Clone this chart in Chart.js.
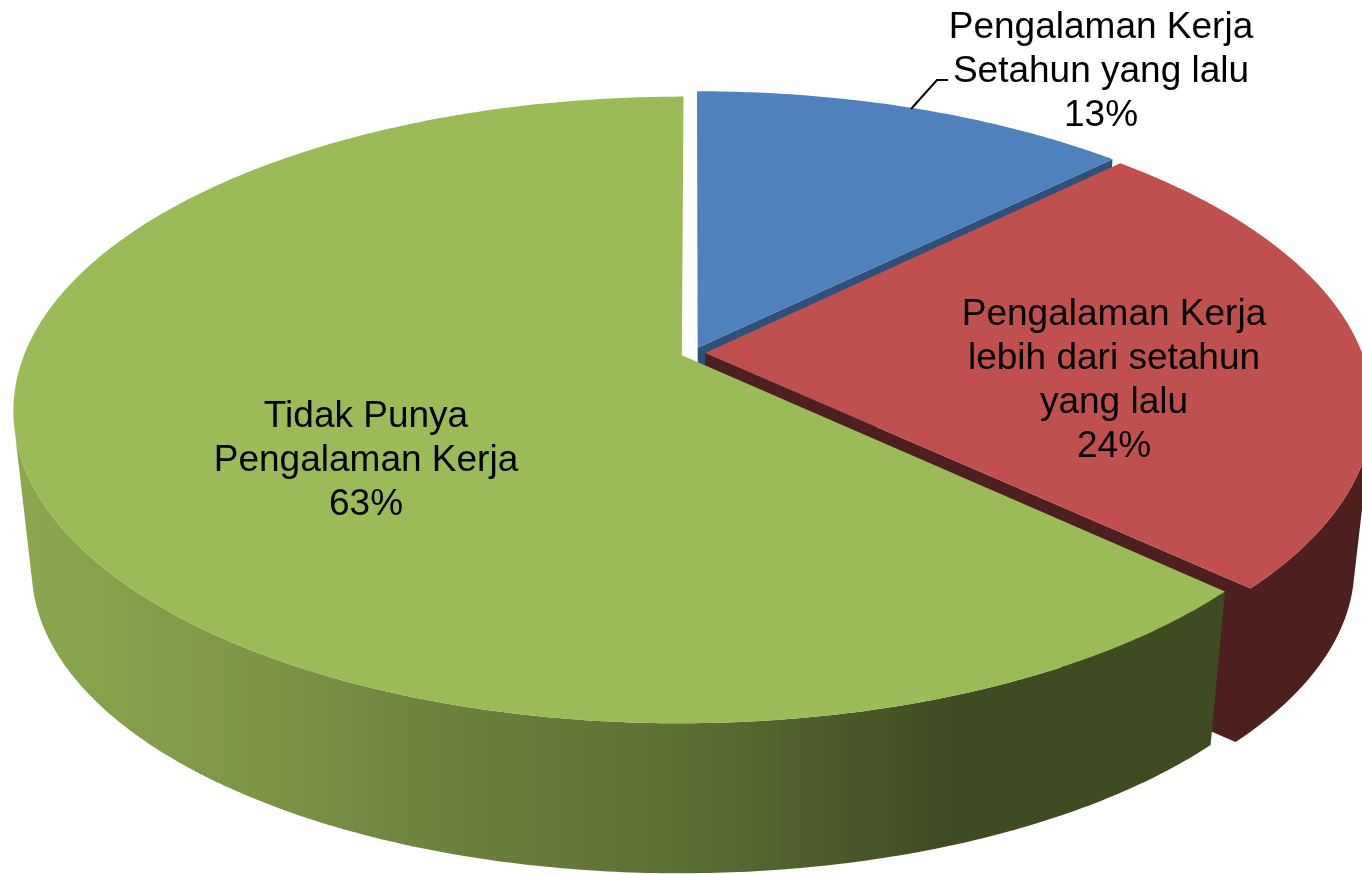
<!DOCTYPE html>
<html>
<head>
<meta charset="utf-8">
<title>Pengalaman Kerja</title>
<script src="https://cdn.jsdelivr.net/npm/chart.js@4"></script>
<style>
    body { margin: 0; background: #fff; overflow: hidden; }
    canvas { display: block; }
</style>
</head>
<body>
<canvas id="myChart" width="1362" height="874"></canvas>
<script>
const CATEGORIES = [
    'Pengalaman Kerja Setahun yang lalu',
    'Pengalaman Kerja lebih dari setahun yang lalu',
    'Tidak Punya Pengalaman Kerja'
];
const VALUES = [12.6, 24.4, 63];
const LABEL_LINES = [
    ['Pengalaman Kerja', 'Setahun yang lalu'],
    ['Pengalaman Kerja', 'lebih dari setahun', 'yang lalu'],
    ['Tidak Punya', 'Pengalaman Kerja']
];
const TOP_COLORS = ['#4f81bd', '#c0504d', '#9bbb59'];
const WALL_COLORS = ['#2f5078', '#4d1f1f', null];

const LABEL_POS = [[1101, 28], [1114, 315], [366, 417]];
const LINE_HEIGHT = 44;

// the look of the tilted disc
const VIEW = { cx: 693, cy: 353, a: 657, b: 303, p: 0.1744, depth: 160, shrink: 0.973 };

function project(u, v, low) {
    let w = 1 - VIEW.p * v;
    let s = low ? VIEW.shrink : 1;
    return [
        VIEW.cx + s * VIEW.a * u / w,
        VIEW.cy + s * VIEW.b * v / w + (low ? VIEW.depth : 0)
    ];
}

function rimPoints(arc) {
    let points = [];
    let steps = Math.ceil((arc.endAngle - arc.startAngle) / 0.01);
    for (let i = 0; i <= steps; i++) {
        let t = arc.startAngle + (arc.endAngle - arc.startAngle) * i / steps;
        points.push([Math.cos(t), Math.sin(t)]);
    }
    return points;
}

function tracePath(ctx, pts) {
    pts.forEach((p, i) => i ? ctx.lineTo(p[0], p[1]) : ctx.moveTo(p[0], p[1]));
    ctx.closePath();
}

function signedArea(pts) {
    let sum = 0;
    pts.forEach((p, i) => {
        let q = pts[(i + 1) % pts.length];
        sum += p[0] * q[1] - q[0] * p[1];
    });
    return sum / 2;
}

function greenWallGradient(ctx) {
    let g = ctx.createLinearGradient(0, 0, 1362, 0);
    g.addColorStop(0.01, '#8ba74f');
    g.addColorStop(0.20, '#7d9447');
    g.addColorStop(0.30, '#6f8540');
    g.addColorStop(0.50, '#5c6f35');
    g.addColorStop(0.70, '#3f4b21');
    g.addColorStop(1, '#3f4b21');
    return g;
}

function drawSlice(ctx, arc, i) {
    let mid = (arc.startAngle + arc.endAngle) / 2;
    let e = arc.options.offset / arc.outerRadius;
    let ox = Math.cos(mid) * e;
    let oy = Math.sin(mid) * e;
    let rim = rimPoints(arc).map(p => [p[0] + ox, p[1] + oy]);

    ctx.fillStyle = WALL_COLORS[i] || greenWallGradient(ctx);

    // walls: all strips in one path so there are no seams, back facing ones left out
    ctx.beginPath();
    for (let k = 0; k < rim.length - 1; k++) {
        let a = rim[k], b = rim[k + 1];
        let quad = [project(a[0], a[1]), project(b[0], b[1]), project(b[0], b[1], true), project(a[0], a[1], true)];
        if (signedArea(quad) < 0) tracePath(ctx, quad);
    }
    // cut wall on the clockwise end of the slice
    let last = rim[rim.length - 1];
    let cut = [project(ox, oy), project(last[0], last[1]), project(last[0], last[1], true), project(ox, oy, true)];
    if (signedArea(cut) > 500) tracePath(ctx, cut.reverse());
    ctx.fill();

    // top face
    ctx.fillStyle = TOP_COLORS[i];
    ctx.beginPath();
    tracePath(ctx, [project(ox, oy)].concat(rim.map(p => project(p[0], p[1]))));
    ctx.fill();
}

function drawLabels(ctx) {
    ctx.fillStyle = '#000';
    ctx.font = '37px "Liberation Sans", Arial, sans-serif';
    ctx.textAlign = 'center';
    ctx.textBaseline = 'middle';
    LABEL_LINES.forEach((lines, i) => {
        let all = lines.concat(Math.round(VALUES[i]) + '%');
        all.forEach((text, k) => ctx.fillText(text, LABEL_POS[i][0], LABEL_POS[i][1] + k * LINE_HEIGHT));
    });

    // leader line of the first label
    ctx.strokeStyle = '#000';
    ctx.lineWidth = 2;
    ctx.beginPath();
    ctx.moveTo(911, 109);
    ctx.lineTo(937, 80);
    ctx.lineTo(948, 80);
    ctx.stroke();
}

const pie3d = {
    id: 'pie3d',
    beforeDatasetsDraw(chart) {
        let ctx = chart.ctx;
        let arcs = chart.getDatasetMeta(0).data;
        ctx.save();
        arcs.forEach((arc, i) => drawSlice(ctx, arc, i));
        drawLabels(ctx);
        ctx.restore();
        return false;
    }
};

new Chart(document.getElementById('myChart'), {
    type: 'pie',
    data: {
        labels: CATEGORIES,
        datasets: [{
            data: VALUES,
            backgroundColor: TOP_COLORS,
            offset: 8,
            borderWidth: 0
        }]
    },
    options: {
        responsive: false,
        animation: false,
        plugins: {
            legend: { display: false },
            tooltip: { enabled: false }
        }
    },
    plugins: [pie3d]
});
</script>
</body>
</html>
